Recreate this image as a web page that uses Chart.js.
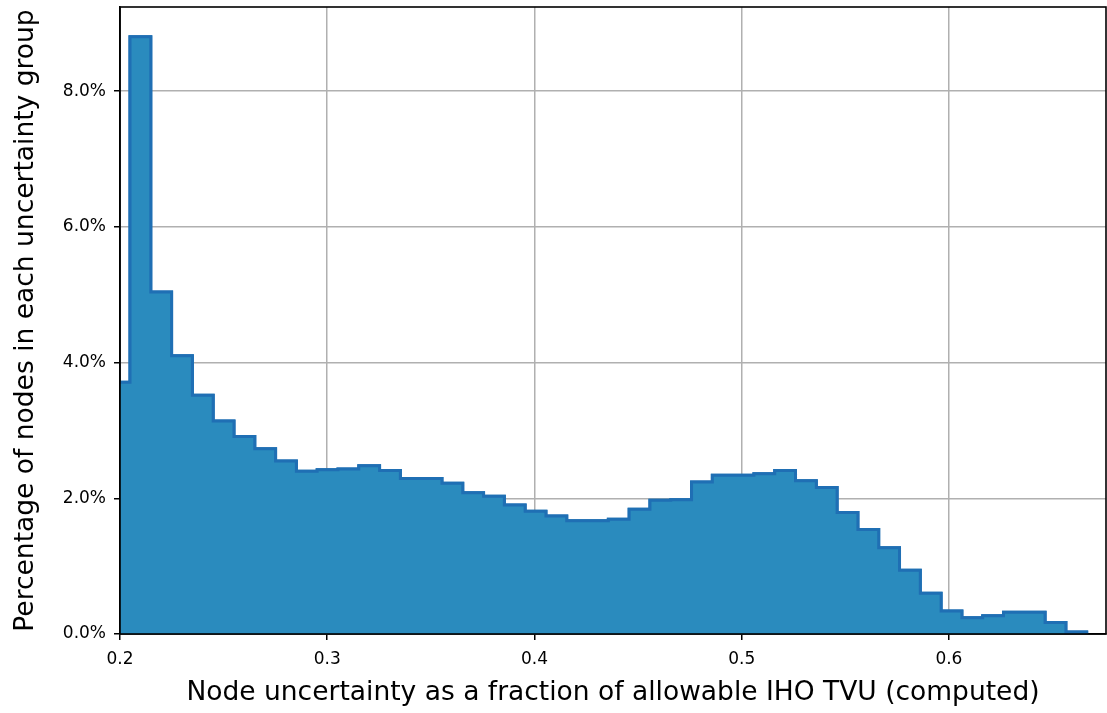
<!DOCTYPE html>
<html>
<head>
<meta charset="utf-8">
<script src="https://cdn.jsdelivr.net/npm/chart.js@4.4.1/dist/chart.umd.min.js"></script>
<style>
  html, body { margin: 0; padding: 0; background: #fff; }
  #wrap { width: 1107px; height: 713px; }
</style>
</head>
<body>
<div id="wrap"><canvas id="hist" width="1107" height="713"></canvas></div>
<script>
// histogram bins: left edge of the first bin, bin width, % of nodes per bin
const binStart = 0.19479;
const binWidth = 0.010036;
const binPercent = [
  3.71, 8.80, 5.04, 4.10, 3.52, 3.14, 2.91, 2.73, 2.55, 2.40,
  2.42, 2.43, 2.48, 2.41, 2.29, 2.29, 2.22, 2.08, 2.03, 1.90,
  1.81, 1.74, 1.67, 1.67, 1.69, 1.84, 1.97, 1.98, 2.24, 2.34,
  2.34, 2.36, 2.41, 2.26, 2.16, 1.79, 1.54, 1.27, 0.94, 0.60,
  0.34, 0.24, 0.27, 0.32, 0.32, 0.17, 0.03
];
const xTicks = [0.2, 0.3, 0.4, 0.5, 0.6];
const yTicks = [0, 2, 4, 6, 8];
const xRange = [0.2, 0.6758];
const yRange = [0, 9.24];

const xTitle = "Node uncertainty as a fraction of allowable IHO TVU (computed)";
const yTitle = "Percentage of nodes in each uncertainty group";

// step outline: each point is a bin's left edge, last one closes down to 0
const stepPoints = binPercent.map((v, i) => ({ x: binStart + i * binWidth, y: v }));
stepPoints.push({ x: binStart + binPercent.length * binWidth, y: 0 });

Chart.defaults.font.family = "'DejaVu Sans', sans-serif";
Chart.defaults.color = "#000";

const gridColor = "#b0b0b0";

// matplotlib draws the grid over the fill but under the outline, plus a full box
const framePlugin = {
  id: "frame",
  afterDraw(chart) {
    const { ctx, chartArea: a } = chart;
    ctx.save();
    ctx.beginPath();
    ctx.rect(a.left, a.top, a.right - a.left, a.bottom - a.top);
    ctx.clip();
    chart.getDatasetMeta(1).controller.draw();
    ctx.restore();

    ctx.save();
    ctx.strokeStyle = "#000";
    ctx.lineWidth = 1.6;
    ctx.strokeRect(a.left, a.top, a.right - a.left, a.bottom - a.top);
    ctx.restore();
  }
};

new Chart(document.getElementById("hist").getContext("2d"), {
  type: "line",
  data: {
    datasets: [
      {
        data: stepPoints,
        stepped: true,
        fill: "origin",
        backgroundColor: "#2a8bbe",
        borderWidth: 0,
        pointRadius: 0
      },
      {
        data: stepPoints,
        stepped: true,
        fill: false,
        borderColor: "#1f6fb4",
        borderWidth: 3,
        pointRadius: 0
      }
    ]
  },
  options: {
    responsive: false,
    animation: false,
    layout: { padding: { top: 7, right: 1, left: 0, bottom: 0 } },
    plugins: { legend: { display: false }, tooltip: { enabled: false } },
    scales: {
      x: {
        type: "linear",
        min: xRange[0],
        max: xRange[1],
        z: 1,
        afterBuildTicks: s => { s.ticks = xTicks.map(v => ({ value: v })); },
        afterFit: s => { s.height = 79; s.paddingLeft = 0; s.paddingRight = 0; },
        ticks: {
          font: { size: 17 },
          padding: 9,
          maxRotation: 0,
          autoSkip: false,
          callback: v => v.toFixed(1)
        },
        grid: { color: gridColor, lineWidth: 1.5, tickColor: "#000", tickLength: 6, tickWidth: 1.5 },
        border: { color: "#000", width: 1.6 },
        title: { display: true, text: xTitle, font: { size: 26.5 }, padding: { top: 0, bottom: 4 } }
      },
      y: {
        min: yRange[0],
        max: yRange[1],
        z: 1,
        afterBuildTicks: s => { s.ticks = yTicks.map(v => ({ value: v })); },
        afterFit: s => { s.width = 120; s.paddingTop = 0; s.paddingBottom = 0; },
        ticks: {
          font: { size: 17 },
          padding: 8,
          callback: v => v.toFixed(1) + "%"
        },
        grid: { color: gridColor, lineWidth: 1.5, tickColor: "#000", tickLength: 6, tickWidth: 1.5 },
        border: { color: "#000", width: 1.6 },
        title: { display: true, text: yTitle, font: { size: 26.5 }, padding: { top: 10, bottom: 0 } }
      }
    }
  },
  plugins: [framePlugin]
});
</script>
</body>
</html>
